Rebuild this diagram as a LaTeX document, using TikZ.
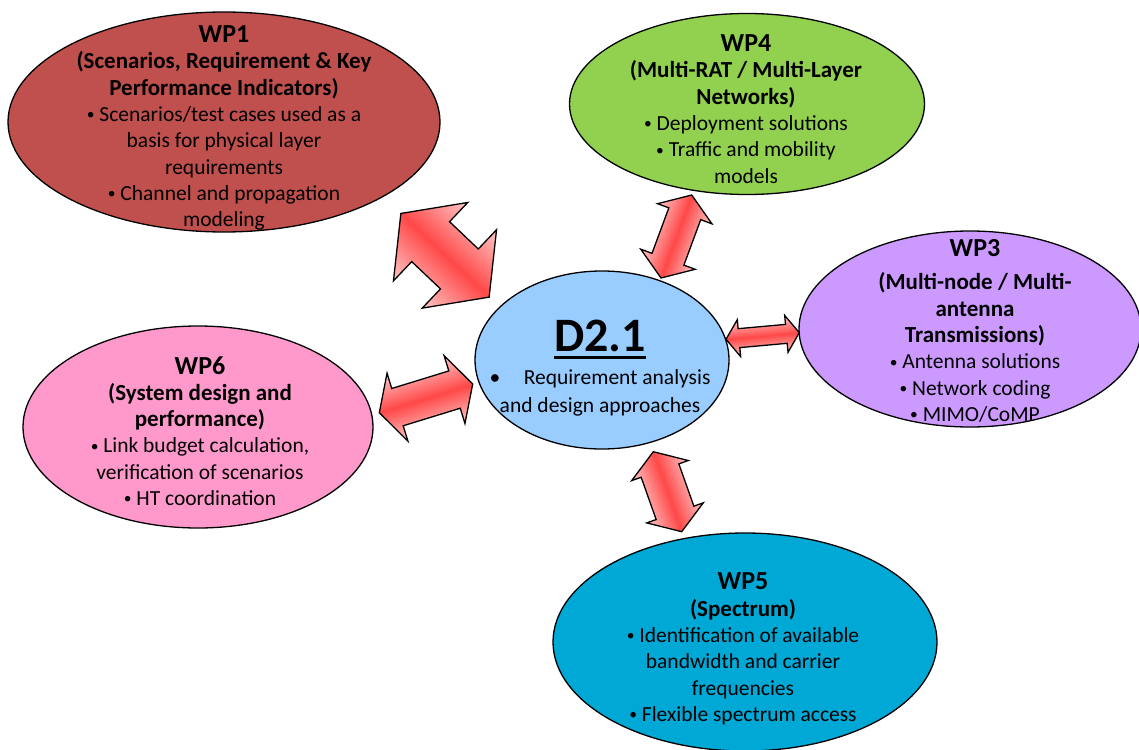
\documentclass[tikz,border=0pt]{standalone}
\usepackage{fontspec}
\usepackage{graphicx}
\setmainfont{Carlito}
\usetikzlibrary{calc,shapes.geometric}
\definecolor{cwpone}{HTML}{C0504D}
\definecolor{cwpfour}{HTML}{92D050}
\definecolor{cwpthree}{HTML}{CC99FF}
\definecolor{cdtwo}{HTML}{99CCFF}
\definecolor{cwpsix}{HTML}{FF99CC}
\definecolor{cwpfive}{HTML}{00A8D6}
\definecolor{arrred}{HTML}{FF4848}
\definecolor{arrlight}{HTML}{FFC8C8}
\tikzset{
  wp/.style={ellipse, draw=black, line width=1.3pt, inner sep=0pt},
  wptext/.style={align=center, inner sep=0pt, text=black,
    font=\fontsize{21.5}{26.3}\selectfont},
  arrowbody/.style={draw=black, line width=1.3pt, line join=miter,
    top color=arrlight, bottom color=arrlight, middle color=arrred},
}
\newcommand\wptitle[1]{{\fontsize{26}{27}\selectfont\bfseries #1}}
\newcommand\wpsub[1]{{\fontsize{23}{26}\selectfont\bfseries #1}}
\newcommand\bul{\raisebox{1.8pt}{\scalebox{0.72}{•}}}
\newcommand\thickul[1]{\leavevmode\vtop{\hbox{#1}\kern4pt\hrule height 3pt}}
% block double arrow between two named tip coordinates
% #1 tip A, #2 tip B, #3 head width, #4 shaft width, #5 head length
\newcommand\blockarrow[5]{%
  \path let \p1=($(#2)-(#1)$) in \pgfextra{%
    \pgfmathsetmacro\BAang{atan2(\y1,\x1)}%
    \pgfmathsetmacro\BAhalf{veclen(\x1,\y1)/2}%
    \xdef\BAang{\BAang}\xdef\BAhalf{\BAhalf}};
  \coordinate (#1#2mid) at ($(#1)!0.5!(#2)$);
  \begin{scope}[transform canvas={shift={(#1#2mid)},rotate=\BAang}]
    \pgfmathsetmacro\BAa{\BAhalf-#5}%
    \pgfmathsetmacro\BAh{#3/2}%
    \pgfmathsetmacro\BAs{#4/2}%
    \path[arrowbody] (-\BAhalf,0) -- (-\BAa,\BAh) -- (-\BAa,\BAs) -- (\BAa,\BAs)
      -- (\BAa,\BAh) -- (\BAhalf,0) -- (\BAa,-\BAh) -- (\BAa,-\BAs)
      -- (-\BAa,-\BAs) -- (-\BAa,-\BAh) -- cycle;
  \end{scope}}
\begin{document}
\begin{tikzpicture}[x=1pt,y=1pt]
\useasboundingbox (0,0) rectangle (1139,-749);

\node[wp, fill=cwpone, minimum width=432, minimum height=220] (wp1) at (224,-122) {};
\node[wptext] (wp1t) at (224,-128)
  {\wptitle{WP1}\\
   \wpsub{(Scenarios, Requirement \& Key}\\
   \wpsub{Performance Indicators)}\\
   \bul\ Scenarios/test cases used as a\\
   basis for physical layer\\
   requirements\\
   \bul\ Channel and propagation\\
   modeling};

\node[wp, fill=cwpfour, minimum width=355, minimum height=181] (wp4) at (747,-104) {};
\node[wptext] (wp4t) at (746,-109)
  {\wptitle{WP4}\\
   \wpsub{(Multi-RAT / Multi-Layer}\\
   \wpsub{Networks)}\\
   \bul\ Deployment solutions\\
   \bul\ Traffic and mobility\\
   models};

\node[wp, fill=cwpthree, minimum width=342, minimum height=196] (wp3) at (970,-329) {};
\node[wptext] (wp3t) at (975,-331)
  {\wptitle{WP3}\\[7pt]
   \wpsub{(Multi-node / Multi-}\\
   \wpsub{antenna}\\
   \wpsub{Transmissions)}\\
   \bul\ Antenna solutions\\
   \bul\ Network coding\\
   \bul\ MIMO/CoMP};

\node[wp, fill=cdtwo, minimum width=254, minimum height=178] (d21) at (602,-360) {};
\node[wptext] (d21t) at (600,-368)
  {{\fontsize{48}{48}\selectfont\bfseries\thickul{D2.1}}\\[7pt]
   •\hspace{1.1em}Requirement analysis\\[1pt]
   and design approaches};

\node[wp, fill=cwpsix, minimum width=350, minimum height=202] (wp6) at (198,-427) {};
\node[wptext] (wp6t) at (200,-431)
  {\wptitle{WP6}\\
   \wpsub{(System design and}\\
   \wpsub{performance)}\\
   \bul\ Link budget calculation,\\
   verification of scenarios\\
   \bul\ HT coordination};

\node[wp, fill=cwpfive, minimum width=384, minimum height=218] (wp5) at (745,-642) {};
\node[wptext] (wp5t) at (743,-649)
  {\wptitle{WP5}\\
   \wpsub{(Spectrum)}\\
   \bul\ Identification of available\\
   bandwidth and carrier\\
   frequencies\\
   \bul\ Flexible spectrum access};

% arrow tips
\coordinate (aone) at (400.7,-213.3);
\coordinate (bone) at (489.3,-297.3);
\coordinate (asix) at (379.3,-412.7);
\coordinate (bsix) at (472.7,-384);
\coordinate (afour) at (691.7,-195);
\coordinate (bfour) at (661,-278);
\coordinate (athree) at (726,-339.3);
\coordinate (bthree) at (799.3,-332.7);
\coordinate (afive) at (653.3,-451.7);
\coordinate (bfive) at (681.7,-531.7);

\blockarrow{aone}{bone}{108}{55}{41}
\blockarrow{asix}{bsix}{71}{39}{19}
\blockarrow{afour}{bfour}{58}{34}{20}
\blockarrow{athree}{bthree}{37}{19}{13}
\blockarrow{afive}{bfive}{60}{40}{20}
\end{tikzpicture}
\end{document}
